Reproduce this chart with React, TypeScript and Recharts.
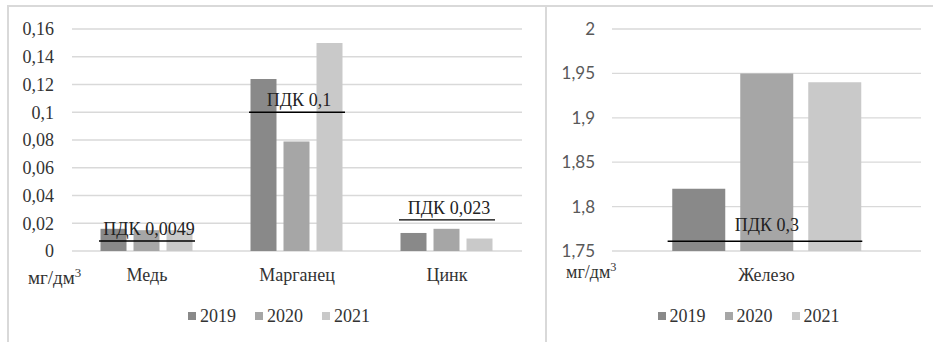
import React from 'react';
import { BarChart, Bar, XAxis, YAxis, CartesianGrid, ReferenceLine, Legend } from 'recharts';

// ---------- data ----------
const years = ['2019', '2020', '2021'];

const metalsLeft = ['Медь', 'Марганец', 'Цинк'];
const left2019 = [0.016, 0.124, 0.013];
const left2020 = [0.015, 0.079, 0.016];
const left2021 = [0.015, 0.15, 0.009];
const leftTicks = [0, 0.02, 0.04, 0.06, 0.08, 0.1, 0.12, 0.14, 0.16];
const leftPdkLabels = ['ПДК 0,0049', 'ПДК 0,1', 'ПДК 0,023'];
const leftPdkLevels = [0.0072, 0.1, 0.0225];

const metalsRight = ['Железо'];
const right2019 = [1.82];
const right2020 = [1.95];
const right2021 = [1.94];
const rightTicks = [1.75, 1.8, 1.85, 1.9, 1.95, 2];
const rightPdkLabels = ['ПДК 0,3'];
const rightPdkLevels = [1.761];

const unitText = 'мг/дм';
const unitSup = '3';

// ---------- styles ----------
const SERIF = '"Liberation Serif", Tinos, "Times New Roman", "DejaVu Serif", serif';
const SANS = 'Lato, "Liberation Sans", sans-serif';
const COLORS = ['#898989', '#a6a6a6', '#c9c9c9'];
const GRID = '#d9d9d9';
const TEXT = '#333333';

const buildData = (names: string[], a: number[], b: number[], c: number[]) =>
  names.map((name, i) => ({ name, y2019: a[i], y2020: b[i], y2021: c[i] }));

const leftData = buildData(metalsLeft, left2019, left2020, left2021);
const rightData = buildData(metalsRight, right2019, right2020, right2021);

const fmt = (v: number) => String(v).replace('.', ',');

const LegendContent = () => (
  <div
    style={{
      display: 'flex',
      justifyContent: 'center',
      alignItems: 'center',
      fontFamily: SERIF,
      fontSize: 18,
      lineHeight: '18px',
      color: TEXT,
    }}
  >
    {years.map((y, i) => (
      <span
        key={y}
        style={{ display: 'inline-flex', alignItems: 'center', marginRight: i < years.length - 1 ? 19 : 0 }}
      >
        <span style={{ display: 'inline-block', width: 8, height: 8, background: COLORS[i], marginRight: 4 }} />
        {y}
      </span>
    ))}
  </div>
);

// PDK segment: spans the bars of category `index` inside the plot area
const makePdkShape =
  (index: number, count: number, label: string, start: number, end: number, offset: number) =>
  (props: any) => {
    const { x1, x2, y1 } = props;
    const band = (x2 - x1) / count;
    const sx = x1 + band * (index + start);
    const ex = x1 + band * (index + end);
    return (
      <g>
        <line x1={sx} x2={ex} y1={y1} y2={y1} stroke="#000" strokeWidth={1.3} />
        <text
          x={(sx + ex) / 2 + 2}
          y={y1 - offset}
          textAnchor="middle"
          style={{ fontFamily: SERIF, fontSize: 18, fill: '#222' }}
        >
          {label}
        </text>
      </g>
    );
  };

type PanelProps = {
  data: any[];
  width: number;
  yWidth: number;
  rightMargin: number;
  domain: [number, number];
  ticks: number[];
  tickFont: string;
  tickSize: number;
  tickFill: string;
  tickMarginY: number;
  tickMarginX: number;
  barGap: number;
  barCategoryGap: string;
  pdkLabels: string[];
  pdkLevels: number[];
  pdkStart: number;
  pdkEnd: number;
  pdkOffset: number;
};

const Panel = (p: PanelProps) => (
  <BarChart
    width={p.width}
    height={342}
    data={p.data}
    margin={{ top: 29, right: p.rightMargin, bottom: 61, left: 0 }}
    barGap={p.barGap}
    barCategoryGap={p.barCategoryGap}
  >
    <CartesianGrid vertical={false} stroke={GRID} strokeWidth={1.3} />
    <XAxis
      dataKey="name"
      axisLine={false}
      tickLine={false}
      tickSize={0}
      tickMargin={p.tickMarginX}
      height={30}
      interval={0}
      tick={{ fontFamily: SERIF, fontSize: 18, fill: TEXT, style: { fontFamily: SERIF } }}
    />
    <YAxis
      domain={p.domain}
      ticks={p.ticks}
      interval={0}
      allowDataOverflow
      width={p.yWidth}
      axisLine={false}
      tickLine={false}
      tickSize={0}
      tickMargin={p.tickMarginY}
      tickFormatter={fmt}
      tick={{ fontFamily: p.tickFont, fontSize: p.tickSize, fill: p.tickFill, style: { fontFamily: p.tickFont } }}
    />
    {years.map((y, i) => (
      <Bar key={y} dataKey={`y${y}`} name={y} fill={COLORS[i]} isAnimationActive={false} />
    ))}
    {p.pdkLevels.map((lvl, i) => (
      <ReferenceLine
        key={`pdk-${i}`}
        y={lvl}
        ifOverflow="visible"
        shape={makePdkShape(i, p.data.length, p.pdkLabels[i], p.pdkStart, p.pdkEnd, p.pdkOffset)}
      />
    ))}
    <Legend
      layout="horizontal"
      verticalAlign="middle"
      align="center"
      content={<LegendContent />}
      wrapperStyle={{ top: 307, left: 0, width: p.width }}
    />
  </BarChart>
);

const Unit = ({ left, top, size }: { left: number; top: number; size: number }) => (
  <div
    style={{
      position: 'absolute',
      left,
      top,
      fontFamily: SERIF,
      fontSize: size,
      lineHeight: 1,
      color: TEXT,
      whiteSpace: 'nowrap',
    }}
  >
    {unitText}
    <sup style={{ fontSize: size * 0.68, verticalAlign: 'super', lineHeight: 0 }}>{unitSup}</sup>
  </div>
);

export default function App() {
  return (
    <div
      style={{
        position: 'absolute',
        left: 0,
        top: 0,
        width: 933,
        height: 342,
        overflow: 'hidden',
        background: '#fff',
      }}
    >
      <div
        style={{
          position: 'absolute',
          left: 7,
          top: 5,
          width: 960,
          height: 400,
          borderTop: `2px solid ${GRID}`,
          borderLeft: `2px solid ${GRID}`,
        }}
      />
      <div style={{ position: 'absolute', left: 545, top: 5, width: 2, height: 400, background: GRID }} />
      <div style={{ position: 'absolute', left: 0, top: 0 }}>
        <Panel
          data={leftData}
          width={558}
          yWidth={72}
          rightMargin={36}
          domain={[0, 0.16]}
          ticks={leftTicks}
          tickFont={SERIF}
          tickSize={18}
          tickFill={TEXT}
          tickMarginY={18}
          tickMarginX={17}
          barGap={7}
          barCategoryGap="19%"
          pdkLabels={leftPdkLabels}
          pdkLevels={leftPdkLevels}
          pdkStart={0.18}
          pdkEnd={0.82}
          pdkOffset={6}
        />
      </div>
      <Unit left={28} top={268} size={19} />
      <div style={{ position: 'absolute', left: 547, top: 0 }}>
        <Panel
          data={rightData}
          width={403}
          yWidth={65}
          rightMargin={29}
          domain={[1.75, 2]}
          ticks={rightTicks}
          tickFont={SANS}
          tickSize={17}
          tickFill="#595959"
          tickMarginY={17}
          tickMarginX={17}
          barGap={15}
          barCategoryGap="19.5%"
          pdkLabels={rightPdkLabels}
          pdkLevels={rightPdkLevels}
          pdkStart={0.18}
          pdkEnd={0.81}
          pdkOffset={10}
        />
      </div>
      <Unit left={566} top={263} size={18} />
    </div>
  );
}
